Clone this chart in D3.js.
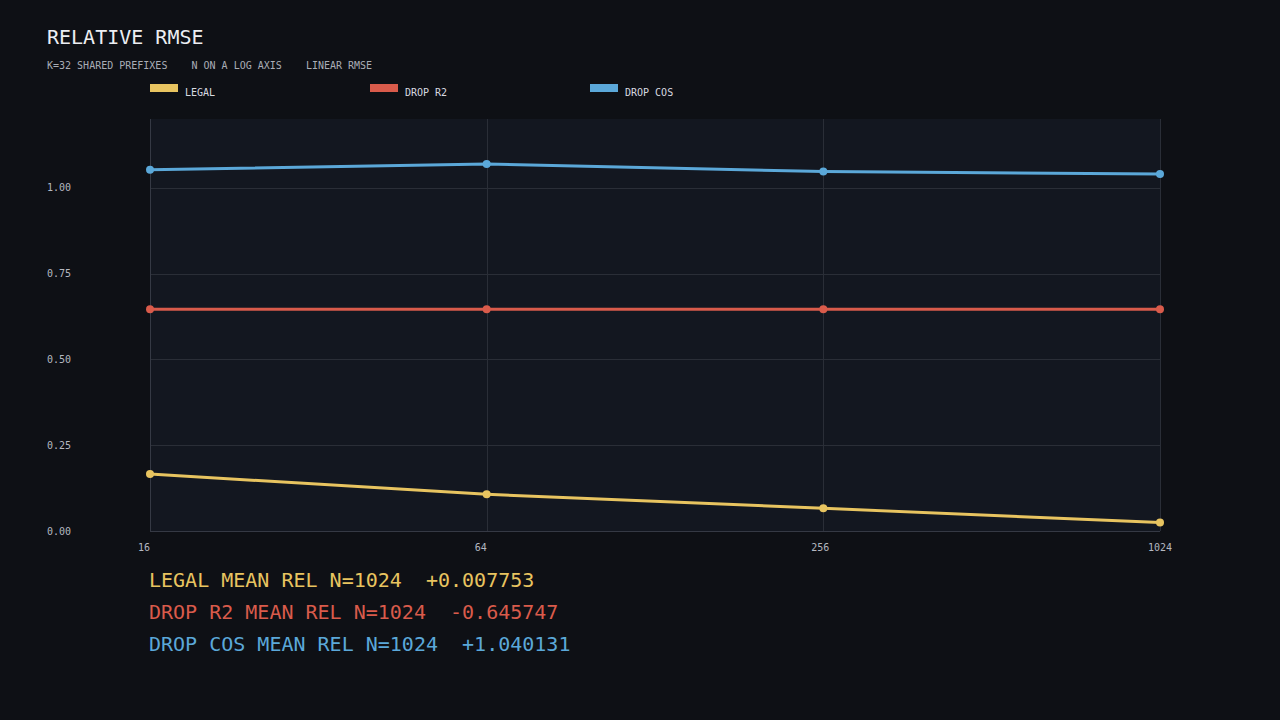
<!DOCTYPE html>
<html>
<head>
<meta charset="utf-8">
<script src="https://cdn.jsdelivr.net/npm/d3@7"></script>
<style>
  html, body { margin: 0; padding: 0; background: #0e1015; }
  svg { display: block; font-family: "DejaVu Sans Mono", monospace; }
</style>
</head>
<body>
<div id="chart"></div>
<script>
// chart data
const nValues = [16, 64, 256, 1024]
const seriesNames = ["LEGAL", "DROP R2", "DROP COS"]
const legalRmse = [0.166, 0.107, 0.066, 0.025]
const dropR2Rmse = [0.6457, 0.6457, 0.6457, 0.6457]
const dropCosRmse = [1.052, 1.069, 1.047, 1.040]
const yTicks = [0, 0.25, 0.5, 0.75, 1.0]
const meanRel = ["+0.007753", "-0.645747", "+1.040131"]
const subtitleParts = ["K=32 SHARED PREFIXES", "N ON A LOG AXIS", "LINEAR RMSE"]

const colors = ["#e8c460", "#d95b4b", "#5ba8d9"]
const allSeries = [legalRmse, dropR2Rmse, dropCosRmse]

const width = 1280, height = 720
const plot = {left: 150, right: 1160, top: 119, bottom: 531}

const svg = d3.select("#chart").append("svg")
    .attr("width", width)
    .attr("height", height)

svg.append("rect")
    .attr("width", width).attr("height", height)
    .attr("fill", "#0e1015")

// title + subtitle
svg.append("text")
    .attr("x", 47).attr("y", 44)
    .style("font-size", "20px")
    .attr("fill", "#eceef2")
    .text("RELATIVE RMSE")

svg.append("text")
    .attr("x", 47).attr("y", 69)
    .style("font-size", "10px")
    .attr("fill", "#a9adb5")
    .attr("xml:space", "preserve")
    .text(subtitleParts.join("    "))

// legend
const legend = svg.append("g")
seriesNames.forEach((name, i) => {
    const lx = 150 + i * 220
    legend.append("rect")
        .attr("x", lx).attr("y", 84)
        .attr("width", 28).attr("height", 8)
        .attr("fill", colors[i])
    legend.append("text")
        .attr("x", lx + 35).attr("y", 96)
        .style("font-size", "10px")
        .attr("fill", "#d8dae0")
        .text(name)
})

const x = d3.scaleLog().base(2)
    .domain([16, 1024])
    .range([plot.left, plot.right])
const y = d3.scaleLinear()
    .domain([0, 1.2])
    .range([plot.bottom, plot.top])

// plot background
svg.append("rect")
    .attr("x", plot.left).attr("y", plot.top)
    .attr("width", plot.right - plot.left)
    .attr("height", plot.bottom - plot.top)
    .attr("fill", "#131720")

const grid = svg.append("g")
    .attr("shape-rendering", "crispEdges")
    .attr("stroke", "#2a2e37")
    .attr("stroke-width", 1)

grid.selectAll(".hg").data(yTicks).enter().append("line")
    .attr("x1", plot.left).attr("x2", plot.right)
    .attr("y1", d => Math.round(y(d)) + 0.5)
    .attr("y2", d => Math.round(y(d)) + 0.5)
grid.selectAll(".vg").data(nValues).enter().append("line")
    .attr("x1", d => Math.round(x(d)) + 0.5)
    .attr("x2", d => Math.round(x(d)) + 0.5)
    .attr("y1", plot.top).attr("y2", plot.bottom)

// axes lines
grid.append("line")
    .attr("stroke", "#353944")
    .attr("x1", plot.left + 0.5).attr("x2", plot.left + 0.5)
    .attr("y1", plot.top).attr("y2", plot.bottom)
grid.append("line")
    .attr("stroke", "#353944")
    .attr("x1", plot.left).attr("x2", plot.right)
    .attr("y1", plot.bottom + 0.5).attr("y2", plot.bottom + 0.5)

// tick labels
svg.append("g").selectAll("text").data(yTicks).enter().append("text")
    .attr("x", 47)
    .attr("y", d => y(d) + 3.5)
    .style("font-size", "10px")
    .attr("fill", "#b4b8c0")
    .text(d => d3.format(".2f")(d))

svg.append("g").selectAll("text").data(nValues).enter().append("text")
    .attr("x", d => x(d) - 12)
    .attr("y", 551)
    .style("font-size", "10px")
    .attr("fill", "#b4b8c0")
    .text(d => d)

// lines + markers
const line = d3.line()
    .x((d, i) => x(nValues[i]))
    .y(d => y(d))

allSeries.forEach((vals, s) => {
    svg.append("path")
        .datum(vals)
        .attr("d", line)
        .attr("fill", "none")
        .attr("stroke", colors[s])
        .attr("stroke-width", 3)
    svg.append("g").selectAll("circle").data(vals).enter().append("circle")
        .attr("cx", (d, i) => x(nValues[i]))
        .attr("cy", d => y(d))
        .attr("r", 4)
        .attr("fill", colors[s])
})

// stats below the chart
seriesNames.forEach((name, i) => {
    svg.append("text")
        .attr("x", 149)
        .attr("y", 587 + i * 32)
        .attr("xml:space", "preserve")
        .style("font-size", "20px")
        .attr("fill", colors[i])
        .text(name + " MEAN REL N=" + nValues[nValues.length - 1] + "  " + meanRel[i])
})
</script>
</body>
</html>
